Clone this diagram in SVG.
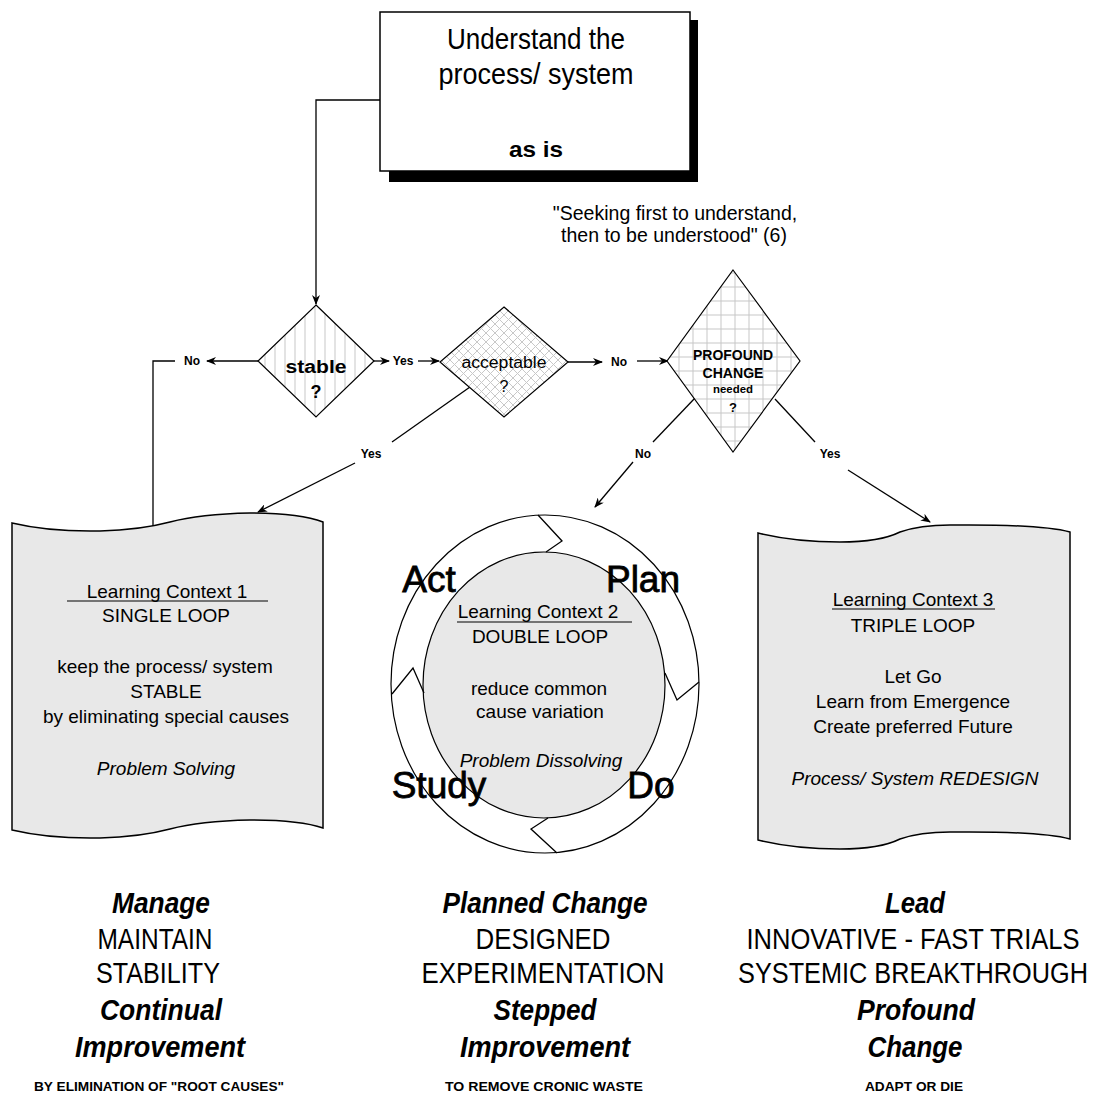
<svg xmlns="http://www.w3.org/2000/svg" width="1097" height="1101" viewBox="0 0 1097 1101">
<defs>
<style>
text{font-family:"Liberation Sans",Arial,sans-serif;fill:#000;text-anchor:middle}
.lab{font-size:12px;font-weight:bold}
.doc{fill:#e8e8e8;stroke:#000;stroke-width:1.5}
.dia{stroke:#000;stroke-width:1.2}
.ln{fill:none;stroke:#000;stroke-width:1.3}
.t19{font-size:19px}
.it{font-style:italic}
.big{font-size:25px}
.bi{font-size:29px;font-weight:bold;font-style:italic}
.sm{font-size:13px;font-weight:bold}
.pd{font-size:37px;stroke:#000;stroke-width:0.8}
</style>
<pattern id="vl" width="10" height="10" patternUnits="userSpaceOnUse"><rect width="10" height="10" fill="#fff"/><line x1="5" y1="0" x2="5" y2="10" stroke="#c8c8c8" stroke-width="1"/></pattern>
<pattern id="xh" width="9" height="9" patternUnits="userSpaceOnUse"><rect width="9" height="9" fill="#fff"/><path d="M0,0 L9,9 M9,0 L0,9" stroke="#c8c8c8" stroke-width="1"/></pattern>
<pattern id="grid" width="14" height="14" patternUnits="userSpaceOnUse"><rect width="14" height="14" fill="#fff"/><path d="M7,0 V14 M0,7 H14" stroke="#c8c8c8" stroke-width="1"/></pattern>
<marker id="ah" markerWidth="10" markerHeight="8" refX="9" refY="4" orient="auto" markerUnits="userSpaceOnUse"><path d="M0,0 L10,4 L0,8 L3,4 z" fill="#000"/></marker>
</defs>
<rect width="1097" height="1101" fill="#fff"/>

<g id="connectors">
<path class="ln" d="M380,100 H316 V304" marker-end="url(#ah)"/>
<path class="ln" d="M258,361 H207" marker-end="url(#ah)"/>
<path class="ln" d="M175,361 H153 V528"/>
<path class="ln" d="M373,361 H389" marker-end="url(#ah)"/>
<path class="ln" d="M418,361 H439" marker-end="url(#ah)"/>
<path class="ln" d="M568,362 H602" marker-end="url(#ah)"/>
<path class="ln" d="M637,361 H668" marker-end="url(#ah)"/>
<path class="ln" d="M470,387 L392,442"/>
<path class="ln" d="M355,463 L258,512" marker-end="url(#ah)"/>
<path class="ln" d="M695,398 L653,442"/>
<path class="ln" d="M633,462 L595,507" marker-end="url(#ah)"/>
<path class="ln" d="M775,399 L815,442"/>
<path class="ln" d="M848,470 L930,522" marker-end="url(#ah)"/>
<text class="lab" x="192" y="365">No</text>
<text class="lab" x="403" y="365">Yes</text>
<text class="lab" x="619" y="366">No</text>
<text class="lab" x="371" y="458">Yes</text>
<text class="lab" x="643" y="458">No</text>
<text class="lab" x="830" y="458">Yes</text>
</g>

<g id="asis">
<rect x="389" y="20" width="309" height="162" fill="#000"/>
<rect x="380" y="12" width="310" height="159" fill="#fff" stroke="#000" stroke-width="1.5"/>
<text x="536" y="49" font-size="29" textLength="178" lengthAdjust="spacingAndGlyphs">Understand the</text>
<text x="536" y="84" font-size="29" textLength="195" lengthAdjust="spacingAndGlyphs">process/ system</text>
<text x="536" y="157" font-size="22" font-weight="bold" textLength="54" lengthAdjust="spacingAndGlyphs">as is</text>
</g>

<g id="quote">
<text x="675" y="220" font-size="19.5">"Seeking first to understand,</text>
<text x="674" y="242" font-size="19.5">then to be understood" (6)</text>
</g>

<g id="stable">
<polygon class="dia" points="316,305 374,361 316,417 258,361" fill="url(#vl)"/>
<text x="316" y="373" font-size="18" font-weight="bold" textLength="61" lengthAdjust="spacingAndGlyphs">stable</text>
<text x="316" y="398" font-size="18" font-weight="bold">?</text>
</g>

<g id="acceptable">
<polygon class="dia" points="504,307 568,362 504,417 440,362" fill="url(#xh)"/>
<text x="504" y="368" font-size="16" textLength="85" lengthAdjust="spacingAndGlyphs">acceptable</text>
<text x="504" y="392" font-size="16">?</text>
</g>

<g id="profound">
<polygon class="dia" points="733,270 800,361 733,452 667,361" fill="url(#grid)"/>
<text x="733" y="360" font-size="14" font-weight="bold" textLength="80" lengthAdjust="spacingAndGlyphs">PROFOUND</text>
<text x="733" y="378" font-size="14" font-weight="bold" textLength="61" lengthAdjust="spacingAndGlyphs">CHANGE</text>
<text x="733" y="393" font-size="11" font-weight="bold" textLength="40" lengthAdjust="spacingAndGlyphs">needed</text>
<text x="733" y="412" font-size="13" font-weight="bold">?</text>
</g>

<g id="lc1">
<path class="doc" d="M12,523 Q50,532 100,531 Q140,530 170,522 Q200,514 250,513 Q300,513 323,522 V828 Q300,820 250,820 Q200,821 170,829 Q140,837 100,838 Q50,839 12,830 Z"/>
<text class="t19" x="167" y="598">Learning Context 1</text>
<line x1="67" y1="601" x2="268" y2="601" stroke="#000" stroke-width="1.2"/>
<text class="t19" x="166" y="622">SINGLE LOOP</text>
<text class="t19" x="165" y="673">keep the process/ system</text>
<text class="t19" x="166" y="698">STABLE</text>
<text class="t19" x="166" y="723">by eliminating special causes</text>
<text class="t19 it" x="166" y="775">Problem Solving</text>
</g>

<g id="lc2">
<ellipse cx="545" cy="684" rx="154" ry="169" fill="#fff" stroke="#000" stroke-width="1.2"/>
<ellipse cx="544" cy="685" rx="121" ry="133" fill="#e8e8e8" stroke="#000" stroke-width="1.2"/>
<polyline class="ln" points="538,515 562,541 546,552"/>
<polyline class="ln" points="665,673 677,700 699,682"/>
<polyline class="ln" points="557,853 531,829 548,818"/>
<polyline class="ln" points="392,694 413,668 424,693"/>
<text class="pd" x="429" y="592">Act</text>
<text class="pd" x="643" y="592">Plan</text>
<text class="pd" x="439" y="798">Study</text>
<text class="pd" x="651" y="798">Do</text>
<text class="t19" x="538" y="618">Learning Context 2</text>
<line x1="457" y1="622" x2="632" y2="622" stroke="#000" stroke-width="1.2"/>
<text class="t19" x="540" y="643">DOUBLE LOOP</text>
<text class="t19" x="539" y="695">reduce common</text>
<text class="t19" x="540" y="718">cause variation</text>
<text class="t19 it" x="541" y="767">Problem Dissolving</text>
</g>

<g id="lc3">
<path class="doc" d="M758,533 Q795,542 840,542 Q880,542 900,532 Q920,525 950,525 Q1040,524 1070,532 V839 Q1040,831 950,832 Q920,832 900,839 Q880,849 840,849 Q795,849 758,840 Z"/>
<text class="t19" x="913" y="606">Learning Context 3</text>
<line x1="832" y1="609" x2="995" y2="609" stroke="#000" stroke-width="1.2"/>
<text class="t19" x="913" y="632">TRIPLE LOOP</text>
<text class="t19" x="913" y="683">Let Go</text>
<text class="t19" x="913" y="708">Learn from Emergence</text>
<text class="t19" x="913" y="733">Create preferred Future</text>
<text class="t19 it" x="915" y="785">Process/ System REDESIGN</text>
</g>

<g id="manage">
<text class="bi" x="161" y="913" textLength="98" lengthAdjust="spacingAndGlyphs">Manage</text>
<text class="big" transform="translate(155,949) scale(1,1.2)" textLength="115" lengthAdjust="spacingAndGlyphs">MAINTAIN</text>
<text class="big" transform="translate(158,983) scale(1,1.2)" textLength="124" lengthAdjust="spacingAndGlyphs">STABILITY</text>
<text class="bi" x="161" y="1020" textLength="122" lengthAdjust="spacingAndGlyphs">Continual</text>
<text class="bi" x="160" y="1057" textLength="170" lengthAdjust="spacingAndGlyphs">Improvement</text>
<text class="sm" x="159" y="1091" textLength="250" lengthAdjust="spacingAndGlyphs">BY ELIMINATION OF "ROOT CAUSES"</text>
</g>

<g id="planned">
<text class="bi" x="545" y="913" textLength="205" lengthAdjust="spacingAndGlyphs">Planned Change</text>
<text class="big" transform="translate(543,949) scale(1,1.2)" textLength="135" lengthAdjust="spacingAndGlyphs">DESIGNED</text>
<text class="big" transform="translate(543,983) scale(1,1.2)" textLength="243" lengthAdjust="spacingAndGlyphs">EXPERIMENTATION</text>
<text class="bi" x="545" y="1020" textLength="103" lengthAdjust="spacingAndGlyphs">Stepped</text>
<text class="bi" x="545" y="1057" textLength="170" lengthAdjust="spacingAndGlyphs">Improvement</text>
<text class="sm" x="544" y="1091" textLength="198" lengthAdjust="spacingAndGlyphs">TO REMOVE CRONIC WASTE</text>
</g>

<g id="lead">
<text class="bi" x="915" y="913" textLength="60" lengthAdjust="spacingAndGlyphs">Lead</text>
<text class="big" transform="translate(913,949) scale(1,1.2)" textLength="333" lengthAdjust="spacingAndGlyphs">INNOVATIVE - FAST TRIALS</text>
<text class="big" transform="translate(913,983) scale(1,1.2)" textLength="350" lengthAdjust="spacingAndGlyphs">SYSTEMIC BREAKTHROUGH</text>
<text class="bi" x="916" y="1020" textLength="118" lengthAdjust="spacingAndGlyphs">Profound</text>
<text class="bi" x="915" y="1057" textLength="95" lengthAdjust="spacingAndGlyphs">Change</text>
<text class="sm" x="914" y="1091" textLength="98" lengthAdjust="spacingAndGlyphs">ADAPT OR DIE</text>
</g>
</svg>
